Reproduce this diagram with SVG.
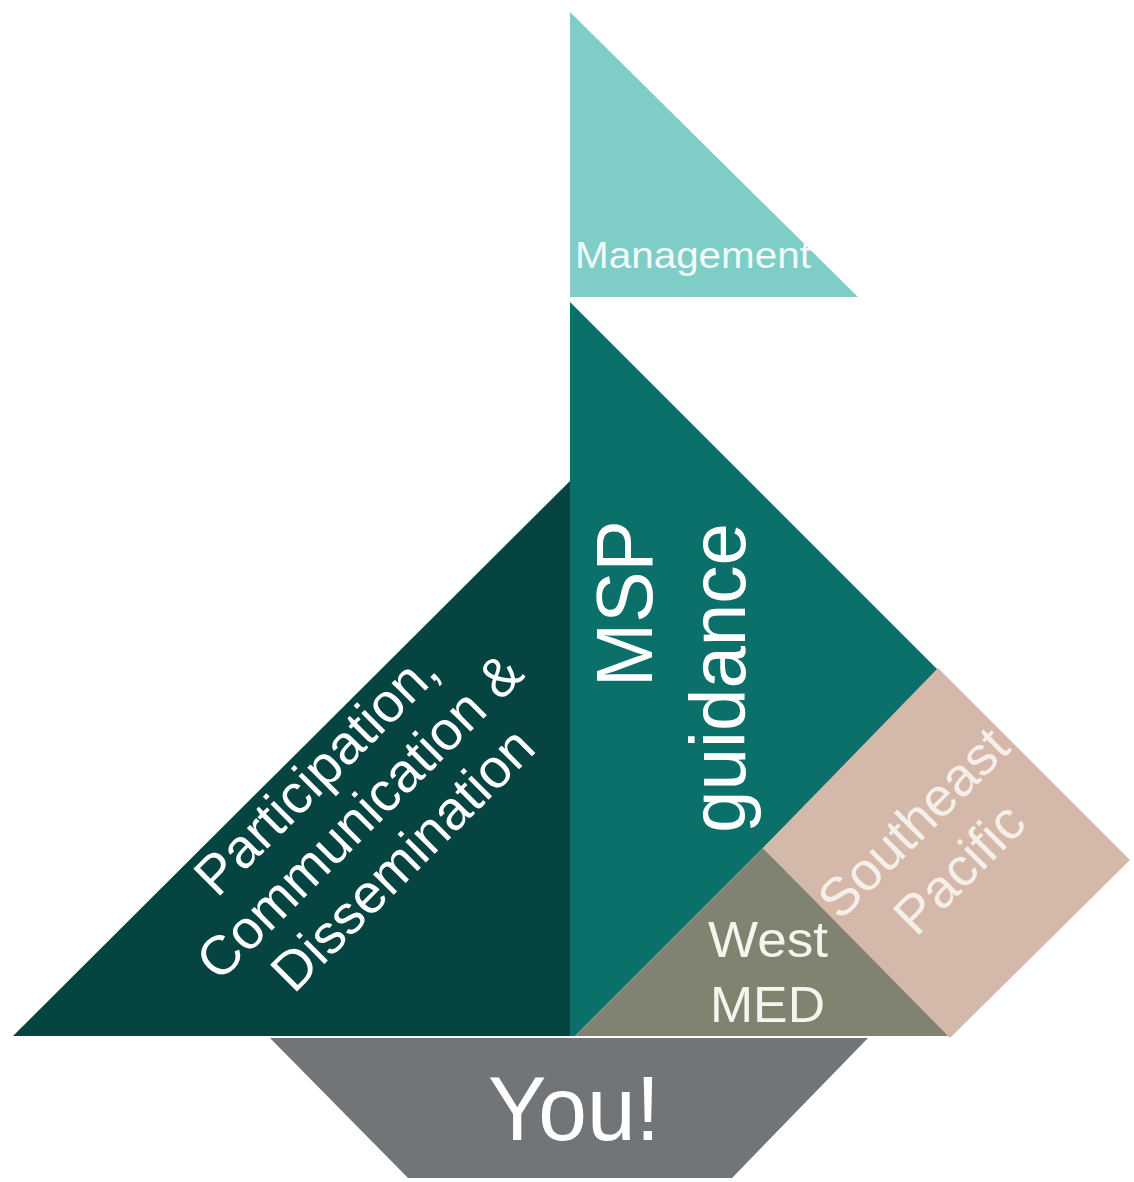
<svg xmlns="http://www.w3.org/2000/svg" width="1134" height="1182" viewBox="0 0 1134 1182">
<style>
.t{font-family:"Liberation Sans",Arial,sans-serif;fill:#ffffff}
</style>
<rect width="1134" height="1182" fill="#ffffff"/>
<g id="flag">
<polygon points="570,12 570,297 858,297" fill="#7ecdc6"/>
<text class="t" x="575" y="268" font-size="37" textLength="236" lengthAdjust="spacingAndGlyphs" style="fill:#f0fbfa">Management</text>
</g>
<g id="msp">
<polygon points="570,302 938,670 763,848 575,1036 570,1036" fill="#0b6f6a"/>
<text class="t" transform="translate(652,687) rotate(-90)" font-size="80" textLength="167" lengthAdjust="spacingAndGlyphs">MSP</text>
<text class="t" transform="translate(745,833) rotate(-90)" font-size="77" textLength="310" lengthAdjust="spacingAndGlyphs">guidance</text>
</g>
<g id="participation">
<polygon points="13,1036 570,481 570,1036" fill="#064441"/>
<g transform="rotate(-45)">
<text class="t" font-size="55" text-anchor="middle" x="-323" y="789">Participation,</text>
<text class="t" font-size="55" text-anchor="middle" x="-323" y="850">Communication &amp;</text>
<text class="t" font-size="55" text-anchor="middle" x="-323" y="911">Dissemination</text>
</g>
</g>
<g id="westmed">
<polygon points="763,848 575,1036 950,1036" fill="#80836f"/>
<text class="t" x="708" y="957" font-size="50" textLength="120" lengthAdjust="spacingAndGlyphs" style="fill:#f5f5ee">West</text>
<text class="t" x="710" y="1022" font-size="50" textLength="115" lengthAdjust="spacingAndGlyphs" style="fill:#f5f5ee">MED</text>
</g>
<g id="southeast">
<polygon points="938,668 1130,860 950,1038 763,848" fill="#d4b9aa"/>
<g transform="rotate(-45)">
<text class="t" font-size="54" text-anchor="middle" x="64" y="1246" style="fill:#f6eee8">Southeast</text>
<text class="t" font-size="54" text-anchor="middle" x="64" y="1311" style="fill:#f6eee8">Pacific</text>
</g>
</g>
<g id="hull">
<polygon points="270,1038 868,1038 732,1178 408,1178" fill="#727577"/>
<text class="t" x="488" y="1140" font-size="90" textLength="172" lengthAdjust="spacingAndGlyphs">You!</text>
</g>
<g id="connectors"></g>
</svg>
